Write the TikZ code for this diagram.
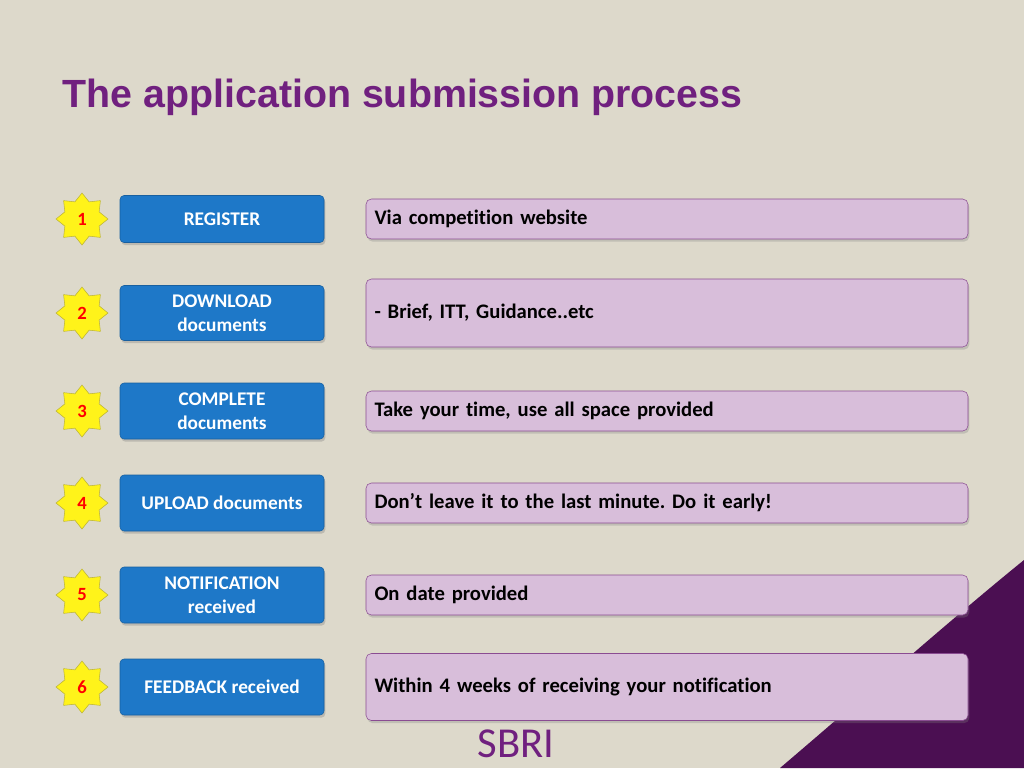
\documentclass[tikz,border=0pt]{standalone}
\usepackage{fontspec}
\setmainfont{Carlito}[Ligatures=NoCommon]
\newfontfamily\titlefont{Liberation Sans}
\usetikzlibrary{shapes.geometric,shadows}
\definecolor{bg}{HTML}{DDD9CB}
\definecolor{ttl}{HTML}{70207F}
\definecolor{blu}{HTML}{1E78C8}
\definecolor{pnk}{HTML}{D8BEDA}
\definecolor{pbd}{HTML}{8A4C92}
\definecolor{dpur}{HTML}{4B0F52}
\tikzset{
 bluebox/.style={draw=blu!80!black,fill=blu,rounded corners=3pt,minimum width=204*0.75pt,text=white,font=\bfseries\fontsize{14.5}{18}\selectfont,align=center,drop shadow={opacity=0.35,shadow xshift=1pt,shadow yshift=-2pt}},
 pinkbox/.style={draw=pbd,fill=pnk,rounded corners=4pt,minimum width=602*0.75pt,text=black,font=\bfseries\fontsize{15.5}{18}\selectfont,align=left,text width=585*0.75pt,drop shadow={opacity=0.3,shadow xshift=1pt,shadow yshift=-2pt}},
 badge/.style={star,star points=8,star point ratio=1.4,fill=yellow!90!white,draw=yellow!70!black,minimum size=52*0.75pt,inner sep=0pt,text=red,font=\bfseries\fontsize{14}{15}\selectfont}
}
\begin{document}
\frenchspacing
\begin{tikzpicture}[x=0.75pt,y=-0.75pt]
\fill[bg] (0,0) rectangle (1024,768);
\useasboundingbox (0,0) rectangle (1024,768);
\fill[dpur] (1024,560) .. controls (950,620) and (860,700) .. (780,768) -- (1024,768) -- cycle;
\node[anchor=west,text=ttl,font=\titlefont\bfseries\fontsize{29.5}{32}\selectfont] (title) at (58,97) {The application submission process};
\foreach \i/\y/\bh/\ph/\bt/\pt in {
 1/219/47/40/REGISTER/Via competition website,
 2/313/55/68/{DOWNLOAD\\documents}/{- Brief, ITT, Guidance..etc},
 3/411/56/40/{COMPLETE\\documents}/{Take your time, use all space provided},
 4/503/56/40/{UPLOAD documents}/{Don’t leave it to the last minute. Do it early!},
 5/595/56/40/{NOTIFICATION\\received}/{On date provided},
 6/687/56/67/{FEEDBACK received}/{Within 4 weeks of receiving your notification}}{
 \node[badge] (s\i) at (82,\y) {\i};
 \node[bluebox,minimum height=\bh*0.75pt] (b\i) at (222,\y) {\bt};
 \node[pinkbox,minimum height=\ph*0.75pt] (p\i) at (667,\y) {\pt};
}
\node[inner sep=0pt,text=ttl,font=\fontsize{32}{34}\selectfont] (sbri) at (516,744) {SBRI};
\end{tikzpicture}
\end{document}
